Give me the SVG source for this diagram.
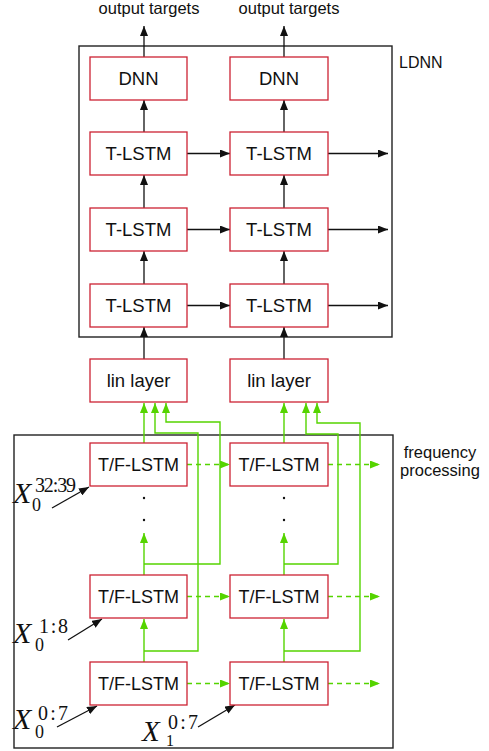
<svg xmlns="http://www.w3.org/2000/svg" width="489" height="751" viewBox="0 0 489 751">
<style>
.bg{fill:#ffffff}
.frame{fill:none;stroke:#222222;stroke-width:1.4}
.box{fill:#ffffff;stroke:#cc2233;stroke-width:1.3}
.t{font-family:"Liberation Sans",Arial,sans-serif;fill:#111111;text-anchor:middle}
.lbl{font-family:"Liberation Sans",Arial,sans-serif;fill:#111111}
.k{fill:none;stroke:#111111;stroke-width:1.3}
.g{fill:none;stroke:#55d400;stroke-width:1.4}
.gd{fill:none;stroke:#55d400;stroke-width:1.4;stroke-dasharray:5,4}
.mx{font-family:"Liberation Serif","Times New Roman",serif;fill:#111111}
.dot{fill:#111111}
</style>
<defs>
<marker id="ak" viewBox="0 0 10 8" refX="10" refY="4" markerWidth="10" markerHeight="8" markerUnits="userSpaceOnUse" orient="auto">
<path d="M0,0 L10,4 L0,8 z" fill="#111111"/>
</marker>
<marker id="ag" viewBox="0 0 10 8" refX="10" refY="4" markerWidth="10" markerHeight="8" markerUnits="userSpaceOnUse" orient="auto">
<path d="M0,0 L10,4 L0,8 z" fill="#55d400"/>
</marker>
</defs>
<rect class="bg" x="0" y="0" width="489" height="751"/>

<g id="ldnn">
<rect class="frame" x="79" y="46" width="313" height="291"/>
<text class="lbl" x="399" y="68" font-size="16">LDNN</text>
</g>
<g id="freq">
<rect class="frame" x="14" y="435" width="379" height="313"/>
<text class="t" x="440" y="458" font-size="16.5">frequency</text>
<text class="t" x="440" y="476" font-size="16.5">processing</text>
</g>

<g id="out1"><text class="t" x="149" y="14" font-size="16.5">output targets</text></g>
<g id="out2"><text class="t" x="289" y="14" font-size="16.5">output targets</text></g>

<g id="connectors">
<path class="k" d="M144,57 V26" marker-end="url(#ak)"/>
<path class="k" d="M284,57 V26" marker-end="url(#ak)"/>
<path class="k" d="M144,132 V100" marker-end="url(#ak)"/>
<path class="k" d="M284,132 V100" marker-end="url(#ak)"/>
<path class="k" d="M144,208 V175" marker-end="url(#ak)"/>
<path class="k" d="M284,208 V175" marker-end="url(#ak)"/>
<path class="k" d="M144,284 V251" marker-end="url(#ak)"/>
<path class="k" d="M284,284 V251" marker-end="url(#ak)"/>
<path class="k" d="M144,359 V327" marker-end="url(#ak)"/>
<path class="k" d="M284,359 V327" marker-end="url(#ak)"/>
<path class="k" d="M187,153.5 H230" marker-end="url(#ak)"/>
<path class="k" d="M328,153.5 H388" marker-end="url(#ak)"/>
<path class="k" d="M187,229.5 H230" marker-end="url(#ak)"/>
<path class="k" d="M328,229.5 H388" marker-end="url(#ak)"/>
<path class="k" d="M187,305.5 H230" marker-end="url(#ak)"/>
<path class="k" d="M328,305.5 H388" marker-end="url(#ak)"/>
<path class="gd" d="M187,464.5 H230" marker-end="url(#ag)"/>
<path class="gd" d="M328,464.5 H380" marker-end="url(#ag)"/>
<path class="gd" d="M187,596.5 H230" marker-end="url(#ag)"/>
<path class="gd" d="M328,596.5 H380" marker-end="url(#ag)"/>
<path class="gd" d="M187,683.5 H230" marker-end="url(#ag)"/>
<path class="gd" d="M328,683.5 H380" marker-end="url(#ag)"/>
<path class="g" d="M144,443 V403" marker-end="url(#ag)"/>
<path class="g" d="M284,443 V403" marker-end="url(#ag)"/>
<path class="g" d="M144,575 V533" marker-end="url(#ag)"/>
<path class="g" d="M284,575 V533" marker-end="url(#ag)"/>
<path class="g" d="M144,662 V619" marker-end="url(#ag)"/>
<path class="g" d="M284,662 V619" marker-end="url(#ag)"/>
<path class="g" d="M144,651 H198 V433 H155 V403" marker-end="url(#ag)"/>
<path class="g" d="M144,564 H220 V422 H166 V403" marker-end="url(#ag)"/>
<path class="g" d="M284,564 H338 V434 H306 V403" marker-end="url(#ag)"/>
<path class="g" d="M284,651 H360 V423 H317 V403" marker-end="url(#ag)"/>
<path class="k" d="M52,508 L89,487" marker-end="url(#ak)"/>
<path class="k" d="M68,640 L102,619" marker-end="url(#ak)"/>
<path class="k" d="M57,727 L97,706" marker-end="url(#ak)"/>
<path class="k" d="M198,727 L235,705" marker-end="url(#ak)"/>
</g>

<g id="dnn1"><rect class="box" x="90" y="57" width="97" height="43"/><text class="t" x="138.5" y="85" font-size="18.5">DNN</text></g>
<g id="dnn2"><rect class="box" x="230" y="57" width="98" height="43"/><text class="t" x="279" y="85" font-size="18.5">DNN</text></g>
<g id="tlstm3a"><rect class="box" x="90" y="132" width="97" height="43"/><text class="t" x="138.5" y="160" font-size="18.5">T-LSTM</text></g>
<g id="tlstm3b"><rect class="box" x="230" y="132" width="98" height="43"/><text class="t" x="279" y="160" font-size="18.5">T-LSTM</text></g>
<g id="tlstm2a"><rect class="box" x="90" y="208" width="97" height="43"/><text class="t" x="138.5" y="236" font-size="18.5">T-LSTM</text></g>
<g id="tlstm2b"><rect class="box" x="230" y="208" width="98" height="43"/><text class="t" x="279" y="236" font-size="18.5">T-LSTM</text></g>
<g id="tlstm1a"><rect class="box" x="90" y="284" width="97" height="43"/><text class="t" x="138.5" y="312" font-size="18.5">T-LSTM</text></g>
<g id="tlstm1b"><rect class="box" x="230" y="284" width="98" height="43"/><text class="t" x="279" y="312" font-size="18.5">T-LSTM</text></g>
<g id="lin1"><rect class="box" x="90" y="359" width="97" height="43"/><text class="t" x="138.5" y="387" font-size="18.5">lin layer</text></g>
<g id="lin2"><rect class="box" x="230" y="359" width="98" height="43"/><text class="t" x="279" y="387" font-size="18.5">lin layer</text></g>
<g id="tf3a"><rect class="box" x="90" y="443" width="97" height="43"/><text class="t" x="138.5" y="471" font-size="18">T/F-LSTM</text></g>
<g id="tf3b"><rect class="box" x="230" y="443" width="98" height="43"/><text class="t" x="279" y="471" font-size="18">T/F-LSTM</text></g>
<g id="tf2a"><rect class="box" x="90" y="575" width="97" height="43"/><text class="t" x="138.5" y="603" font-size="18">T/F-LSTM</text></g>
<g id="tf2b"><rect class="box" x="230" y="575" width="98" height="43"/><text class="t" x="279" y="603" font-size="18">T/F-LSTM</text></g>
<g id="tf1a"><rect class="box" x="90" y="662" width="97" height="43"/><text class="t" x="138.5" y="690" font-size="18">T/F-LSTM</text></g>
<g id="tf1b"><rect class="box" x="230" y="662" width="98" height="43"/><text class="t" x="279" y="690" font-size="18">T/F-LSTM</text></g>

<g id="dots">
<circle class="dot" cx="144" cy="498" r="1.2"/>
<circle class="dot" cx="144" cy="520" r="1.2"/>
<circle class="dot" cx="284" cy="498" r="1.2"/>
<circle class="dot" cx="284" cy="520" r="1.2"/>
</g>

<g id="x0_32_39">
<text class="mx"><tspan x="13" y="503" font-size="30" font-style="italic">X</tspan><tspan x="35" y="492" font-size="20" textLength="41" lengthAdjust="spacing">32:39</tspan><tspan x="32" y="511" font-size="18">0</tspan></text>
</g>
<g id="x0_1_8">
<text class="mx"><tspan x="13" y="643" font-size="30" font-style="italic">X</tspan><tspan x="39" y="633" font-size="20" textLength="29" lengthAdjust="spacing">1:8</tspan><tspan x="35" y="651" font-size="18">0</tspan></text>
</g>
<g id="x0_0_7">
<text class="mx"><tspan x="13" y="729" font-size="30" font-style="italic">X</tspan><tspan x="38" y="720" font-size="20" textLength="30" lengthAdjust="spacing">0:7</tspan><tspan x="35" y="738" font-size="18">0</tspan></text>
</g>
<g id="x1_0_7">
<text class="mx"><tspan x="142" y="741" font-size="29" font-style="italic">X</tspan><tspan x="168" y="729" font-size="20" textLength="30" lengthAdjust="spacing">0:7</tspan><tspan x="166" y="746" font-size="16">1</tspan></text>
</g>
</svg>
